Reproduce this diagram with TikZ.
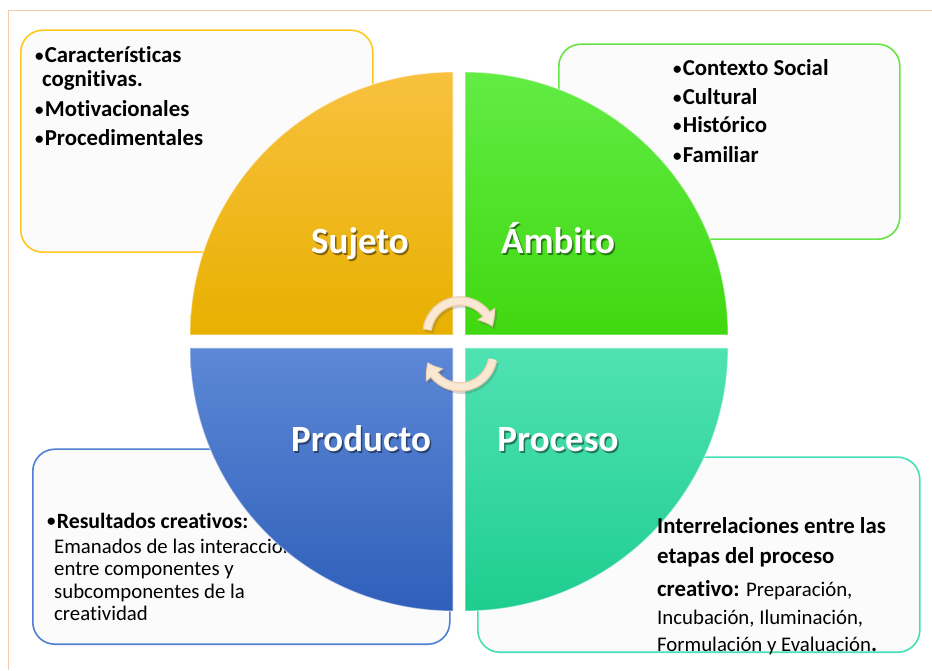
\documentclass[tikz,border=0pt]{standalone}
\usepackage{fontspec}
\setmainfont{Carlito}[Ligatures=NoCommon]
\usetikzlibrary{arrows.meta,bending}
\definecolor{framec}{HTML}{F5C9AA}
\definecolor{boxfill}{HTML}{FBFBFB}
\definecolor{sujb}{HTML}{FFC81E}
\definecolor{ambb}{HTML}{66E445}
\definecolor{prodb}{HTML}{4F80D2}
\definecolor{procb}{HTML}{45E0B4}
\definecolor{sujt}{HTML}{F8C13E}
\definecolor{sujm}{HTML}{FDC300}
\definecolor{sujd}{HTML}{E8B000}
\definecolor{ambt}{HTML}{62EC45}
\definecolor{ambd}{HTML}{40D810}
\definecolor{prodt}{HTML}{5D88D6}
\definecolor{prodd}{HTML}{2F5FBA}
\definecolor{proct}{HTML}{50E2B2}
\definecolor{procd}{HTML}{1ECD90}
\definecolor{arrowc}{HTML}{FBE8D2}
\definecolor{arrowe}{HTML}{E9CDAE}
\newcommand{\bul}{\raisebox{1.6pt}{\fontsize{17}{17}\selectfont •}\hspace{1.2pt}}
\begin{document}
\begin{tikzpicture}[x=1pt,y=1pt,
  infobox/.style={draw=#1, line width=1.6pt, fill=boxfill, rounded corners=22pt,
    anchor=south west, inner sep=0pt},
  quad/.style n args={3}{shade, top color=#1, middle color=#2, bottom color=#3,
    draw=white, draw opacity=0.45, line width=1.2pt},
  boxtxt/.style={anchor=base west, inner sep=0pt, font=\fontsize{22.8}{26}\selectfont\bfseries},
  regtxt/.style={anchor=base west, inner sep=0pt, font=\fontsize{20.8}{24}\selectfont},
  qlabel/.style={anchor=base, inner sep=0pt, text=white, font=\fontsize{37}{44}\selectfont\bfseries},
  qshadow/.style={anchor=base, inner sep=0pt, text=black, opacity=0.45, font=\fontsize{37}{44}\selectfont\bfseries},
  cycedge/.style={draw=arrowe, line width=9.5pt, -{Triangle[width=21pt,length=15pt,bend]}},
  cyc/.style={draw=arrowc, line width=7pt, -{Triangle[width=17pt,length=12pt,bend]}},
  cycshadow/.style={draw=black!70, opacity=0.22, line width=9pt, -{Triangle[width=21pt,length=15pt,bend]}}
]
\useasboundingbox (0,0) rectangle (932,670);
\fill[white] (0,0) rectangle (932,670);
\draw[framec, line width=1pt] (8,0) -- (8,659) -- (932,659);

% info boxes
\node[infobox=sujb, minimum width=352pt, minimum height=222pt] (bsuj) at (20,417) {};
\node[infobox=ambb, minimum width=341pt, minimum height=195pt] (bamb) at (558,430) {};
\node[infobox=prodb, minimum width=417pt, minimum height=195pt] (bprod) at (32,25) {};
\node[infobox=procb, minimum width=442pt, minimum height=195pt] (bproc) at (477,17) {};

% box texts
\node[boxtxt] (s1) at (35,607) {\bul Características};
\node[boxtxt] (s2) at (42,583) {cognitivas.};
\node[boxtxt] (s3) at (35,553) {\bul Motivacionales};
\node[boxtxt] (s4) at (35,524) {\bul Procedimentales};

\node[boxtxt] (a1) at (673,594) {\bul Contexto Social};
\node[boxtxt] (a2) at (673,565) {\bul Cultural};
\node[boxtxt] (a3) at (673,537) {\bul Histórico};
\node[boxtxt] (a4) at (673,507) {\bul Familiar};

\node[boxtxt, font=\fontsize{21.8}{26}\selectfont\bfseries] (p1) at (47,142) {\bul Resultados creativos:};
\node[regtxt] (p2) at (54,117) {Emanados de las interacciones};
\node[regtxt] (p3) at (54,95) {entre componentes y};
\node[regtxt] (p4) at (54,72) {subcomponentes de la};
\node[regtxt] (p5) at (54,50) {creatividad};

% quadrants
\path[quad={sujt}{sujm}{sujd}] (453,335) -- ++(-263,0) arc[start angle=180, end angle=90, radius=263pt] -- cycle;
\path[quad={ambt}{ambd!60!ambt}{ambd}] (465,335) -- ++(0,263) arc[start angle=90, end angle=0, radius=263pt] -- cycle;
\path[quad={prodt}{prodt!50!prodd}{prodd}] (453,322) -- ++(-263,0) arc[start angle=180, end angle=270, radius=263pt] -- cycle;
\path[quad={proct}{proct!50!procd}{procd}] (465,322) -- ++(263,0) arc[start angle=0, end angle=-90, radius=263pt] -- cycle;

% Proceso box text (in front)
\node[boxtxt] (r1) at (657,136) {Interrelaciones entre las};
\node[boxtxt] (r2) at (657,107) {etapas del proceso};
\node[anchor=base west, inner sep=0pt] (r3) at (657,74)
  {\fontsize{22.8}{26}\selectfont\bfseries creativo:\mdseries\fontsize{20.8}{24}\selectfont{} Preparación,};
\node[regtxt] (r4) at (657,46) {Incubación, Iluminación,};
\node[anchor=base west, inner sep=0pt] (r5) at (657,19)
  {\fontsize{20.8}{24}\selectfont Formulación y Evaluación\fontsize{22.8}{26}\selectfont\bfseries .};

% quadrant labels
\node[qshadow] at (361.5,414.5) {Sujeto};
\node[qlabel] (lsuj) at (360,416) {Sujeto};
\node[qshadow] at (559.5,414.5) {Ámbito};
\node[qlabel] (lamb) at (558,416) {Ámbito};
\node[qshadow] at (362.5,216.5) {Producto};
\node[qlabel] (lprod) at (361,218) {Producto};
\node[qshadow] at (559.5,216.5) {Proceso};
\node[qlabel] (lproc) at (558,218) {Proceso};

% cycle arrows
\coordinate (ctop) at (460,336);
\coordinate (cbot) at (460,316);
\draw[cycshadow] ([shift={(2,-2.5)}]ctop) ++(173:33) arc[start angle=173, end angle=12, radius=33pt];
\draw[cycshadow] ([shift={(2,-2.5)}]cbot) ++(-10:33) arc[start angle=-10, end angle=-166, radius=33pt];
\draw[cycedge] (ctop) ++(173:33) arc[start angle=173, end angle=12, radius=33pt];
\draw[cycedge] (cbot) ++(-10:33) arc[start angle=-10, end angle=-166, radius=33pt];
\draw[cyc] (ctop) ++(172:33) arc[start angle=172, end angle=15, radius=33pt];
\draw[cyc] (cbot) ++(-9:33) arc[start angle=-9, end angle=-163, radius=33pt];
\end{tikzpicture}
\end{document}
